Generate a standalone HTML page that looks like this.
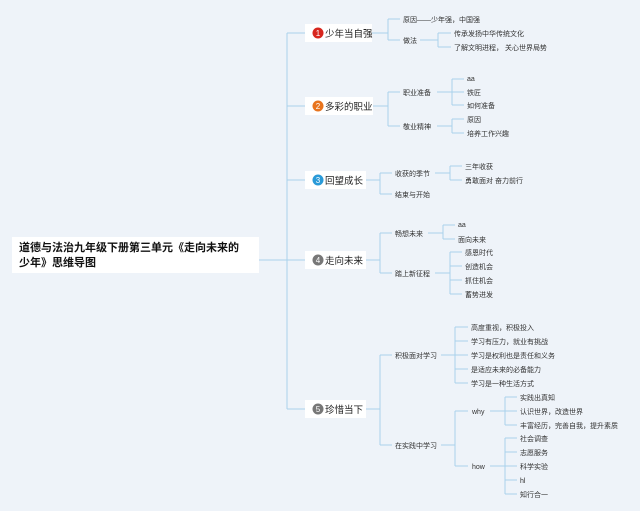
<!DOCTYPE html>
<html><head><meta charset="utf-8"><style>
html,body{margin:0;padding:0;background:#eef3f9;}
svg{display:block;}
text{font-family:"Liberation Sans","Noto Sans CJK SC",sans-serif;fill:#333;}
.s{font-size:7px;}
.m{font-size:9.5px;fill:#222;}
.l{fill:none;stroke:#a9d2ec;stroke-width:1;}
</style></head><body>
<svg width="640" height="511" viewBox="0 0 640 511" xmlns="http://www.w3.org/2000/svg">
<rect width="640" height="511" fill="#eef3f9"/>
<path class="l" d="M259 260H287M287 33V409M287 33H305M287 106H305M287 180H305M287 260H305M287 409H305"/>
<rect x="12" y="237" width="247" height="36" fill="#fff"/>
<text x="19" y="251" style="font-size:11px;font-weight:bold;fill:#111">道德与法治九年级下册第三单元《走向未来的</text>
<text x="19" y="266" style="font-size:11px;font-weight:bold;fill:#111">少年》思维导图</text>

<rect x="305" y="24" width="67" height="18" fill="#fff"/>
<circle cx="318" cy="33" r="5.5" fill="#d7261e"/><text x="318" y="36" text-anchor="middle" style="font-size:8px;fill:#fff">1</text>
<text class="m" x="325" y="37">少年当自强</text>
<rect x="305" y="97" width="68" height="18" fill="#fff"/>
<circle cx="318" cy="106" r="5.5" fill="#e8741e"/><text x="318" y="109" text-anchor="middle" style="font-size:8px;fill:#fff">2</text>
<text class="m" x="325" y="110">多彩的职业</text>
<rect x="305" y="171" width="61" height="18" fill="#fff"/>
<circle cx="318" cy="180" r="5.5" fill="#2a9ad8"/><text x="318" y="183" text-anchor="middle" style="font-size:8px;fill:#fff">3</text>
<text class="m" x="325" y="184">回望成长</text>
<rect x="305" y="251" width="61" height="18" fill="#fff"/>
<circle cx="318" cy="260" r="5.5" fill="#777"/><text x="318" y="263" text-anchor="middle" style="font-size:8px;fill:#fff">4</text>
<text class="m" x="325" y="264">走向未来</text>
<rect x="305" y="400" width="61" height="18" fill="#fff"/>
<circle cx="318" cy="409" r="5.5" fill="#777"/><text x="318" y="412" text-anchor="middle" style="font-size:8px;fill:#fff">5</text>
<text class="m" x="325" y="413">珍惜当下</text>

<path class="l" d="M372 33H388M388 19V40M388 19H400M388 40H400M420 40H438M438 33V47M438 33H451M438 47H451"/>
<text class="s" x="403" y="22">原因——少年强，中国强</text>
<text class="s" x="403" y="43">做法</text>
<text class="s" x="454" y="36">传承发扬中华传统文化</text>
<text class="s" x="454" y="50">了解文明进程， 关心世界局势</text>

<path class="l" d="M373 106H388M388 92V126M388 92H400M388 126H400M437 92H452M452 79V105M452 79H464M452 92H464M452 105H464M437 126H452M452 119V133M452 119H464M452 133H464"/>
<text class="s" x="403" y="95">职业准备</text>
<text class="s" x="403" y="129">敬业精神</text>
<text class="s" x="467" y="81">aa</text>
<text class="s" x="467" y="95">铁匠</text>
<text class="s" x="467" y="108">如何准备</text>
<text class="s" x="467" y="122">原因</text>
<text class="s" x="467" y="136">培养工作兴趣</text>

<path class="l" d="M366 180H380M380 173V194M380 173H392M380 194H392M435 173H450M450 166V180M450 166H462M450 180H462"/>
<text class="s" x="395" y="176">收获的季节</text>
<text class="s" x="395" y="197">结束与开始</text>
<text class="s" x="465" y="169">三年收获</text>
<text class="s" x="465" y="183">勇敢面对 奋力前行</text>

<path class="l" d="M366 260H380M380 233V273M380 233H392M380 273H392M428 233H443M443 225V239M443 225H455M443 239H455M435 273H450M450 252V294M450 252H462M450 266H462M450 280H462M450 294H462"/>
<text class="s" x="395" y="236">畅想未来</text>
<text class="s" x="395" y="276">踏上新征程</text>
<text class="s" x="458" y="227">aa</text>
<text class="s" x="458" y="242">面向未来</text>
<text class="s" x="465" y="255">感恩时代</text>
<text class="s" x="465" y="269">创造机会</text>
<text class="s" x="465" y="283">抓住机会</text>
<text class="s" x="465" y="297">蓄势进发</text>

<path class="l" d="M366 409H380M380 355V445M380 355H392M380 445H392M441 355H455M455 327V383M455 327H468M455 341H468M455 355H468M455 369H468M455 383H468M441 445H455M455 411V466M455 411H468M455 466H468M490 411H505M505 397V425M505 397H517M505 411H517M505 425H517M490 466H505M505 438V494M505 438H517M505 452H517M505 466H517M505 480H517M505 494H517"/>
<text class="s" x="395" y="358">积极面对学习</text>
<text class="s" x="395" y="448">在实践中学习</text>
<text class="s" x="471" y="330">高度重视，积极投入</text>
<text class="s" x="471" y="344">学习有压力，就业有挑战</text>
<text class="s" x="471" y="358">学习是权利也是责任和义务</text>
<text class="s" x="471" y="372">是适应未来的必备能力</text>
<text class="s" x="471" y="386">学习是一种生活方式</text>
<text class="s" x="472" y="414">why</text>
<text class="s" x="472" y="469">how</text>
<text class="s" x="520" y="400">实践出真知</text>
<text class="s" x="520" y="414">认识世界，改造世界</text>
<text class="s" x="520" y="428">丰富经历，完善自我，提升素质</text>
<text class="s" x="520" y="441">社会调查</text>
<text class="s" x="520" y="455">志愿服务</text>
<text class="s" x="520" y="469">科学实验</text>
<text class="s" x="520" y="483">hl</text>
<text class="s" x="520" y="497">知行合一</text>
</svg>
</body></html>
